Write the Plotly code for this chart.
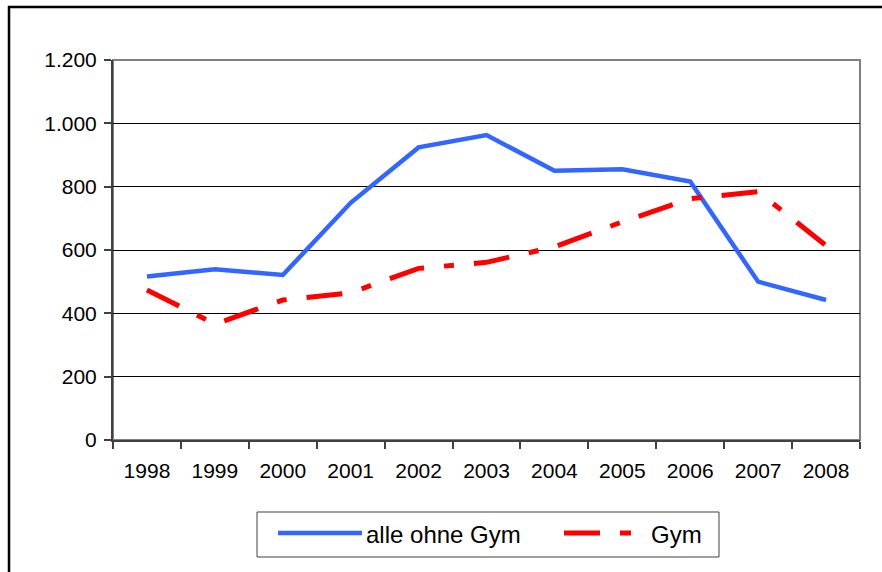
import plotly.graph_objects as go

years = ["1998", "1999", "2000", "2001", "2002", "2003", "2004", "2005", "2006", "2007", "2008"]
alle_ohne_gym = [516, 539, 521, 749, 924, 963, 850, 855, 816, 500, 442]
gym = [474, 366, 442, 465, 542, 561, 610, 689, 762, 784, 614]
y_ticks = [0, 200, 400, 600, 800, 1000, 1200]
y_tick_text = ["0", "200", "400", "600", "800", "1.000", "1.200"]

W, H = 882, 572
L, R, T, B = 113, 22, 60, 132
PW, PH = W - L - R, H - T - B

BLUE = "#3366FF"
RED = "#FF0000"
FONT = "Liberation Sans, Arial, sans-serif"


def px_x(x):
    # pixel column -> paper x
    return (x - L) / PW


def px_y(y):
    # pixel row -> paper y
    return (H - B - y) / PH


fig = go.Figure()
fig.add_trace(go.Scatter(x=years, y=alle_ohne_gym, mode="lines", name="alle ohne Gym",
                         line=dict(color=BLUE, width=4.5), showlegend=False))
fig.add_trace(go.Scatter(x=years, y=gym, mode="lines", name="Gym",
                         line=dict(color=RED, width=5, dash="36px,20px,10px,20px"), showlegend=False))

shapes = []
# plot area border (gray)
shapes.append(dict(type="rect", xref="paper", yref="paper", x0=0, x1=1, y0=0, y1=1,
                   line=dict(color="#808080", width=2), layer="below"))
# outer chart frame (only left and top visible)
shapes.append(dict(type="line", xref="paper", yref="paper", x0=px_x(9), x1=px_x(9),
                   y0=px_y(6), y1=px_y(580), line=dict(color="black", width=2.5)))
shapes.append(dict(type="line", xref="paper", yref="paper", x0=px_x(8), x1=px_x(890),
                   y0=px_y(7), y1=px_y(7), line=dict(color="black", width=2.5)))
# legend box
shapes.append(dict(type="rect", xref="paper", yref="paper", x0=px_x(257), x1=px_x(719),
                   y0=px_y(557), y1=px_y(512), line=dict(color="#404040", width=1)))
shapes.append(dict(type="line", xref="paper", yref="paper", x0=px_x(278), x1=px_x(362),
                   y0=px_y(533), y1=px_y(533), line=dict(color=BLUE, width=4.5)))
shapes.append(dict(type="line", xref="paper", yref="paper", x0=px_x(564), x1=px_x(631),
                   y0=px_y(533), y1=px_y(533), line=dict(color=RED, width=5, dash="36px,20px,11px,20px")))

annotations = [
    dict(text="alle ohne Gym", xref="paper", yref="paper", x=px_x(364), y=px_y(534),
         xanchor="left", yanchor="middle", showarrow=False, font=dict(size=24, color="black", family=FONT)),
    dict(text="Gym", xref="paper", yref="paper", x=px_x(649), y=px_y(534),
         xanchor="left", yanchor="middle", showarrow=False, font=dict(size=24, color="black", family=FONT)),
]

fig.update_layout(
    width=W, height=H,
    margin=dict(l=L, r=R, t=T, b=B),
    paper_bgcolor="white", plot_bgcolor="white",
    font=dict(family=FONT, size=21, color="black"),
    shapes=shapes, annotations=annotations,
    showlegend=False,
)
fig.update_xaxes(
    type="category", range=[-0.5, 10.5], tickson="boundaries", ticks="outside", ticklen=7,
    tickwidth=1.5, tickcolor="#404040", showline=True, linecolor="#404040", linewidth=2,
    showgrid=False, ticklabelstandoff=11, tickfont=dict(size=21),
)
fig.update_yaxes(
    range=[0, 1200], tickvals=y_ticks, ticktext=y_tick_text, ticks="outside", ticklen=7,
    tickwidth=1.5, tickcolor="#404040", showline=True, linecolor="#404040", linewidth=2,
    showgrid=True, gridcolor="black", gridwidth=1, zeroline=False,
    ticklabelstandoff=3, tickfont=dict(size=21),
)

# the page body has a default 8px margin; drop it so the chart sits at (0, 0)
fig.write_html("out.html", config={"displayModeBar": False},
               post_script="document.body.style.margin='0';")
